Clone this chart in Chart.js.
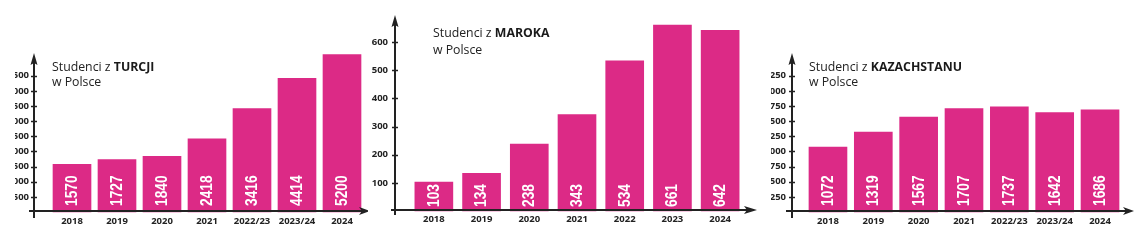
<!DOCTYPE html>
<html>
<head>
<meta charset="utf-8">
<script src="https://cdn.jsdelivr.net/npm/chart.js@4"></script>
<style>
  html, body { margin: 0; padding: 0; background: #fff; overflow: hidden; }
  body { width: 1148px; height: 240px; position: relative; }
  .wrap { position: absolute; top: 0; height: 240px; overflow: hidden; }
  .wrap canvas { position: absolute; top: 0; }
  .title {
    position: absolute; font-family: "Open Sans", sans-serif; font-size: 12.3px;
    font-weight: 500; color: #222; line-height: 15px; white-space: nowrap;
  }
  .title b { font-weight: 700; color: #1a1a1a; }
</style>
</head>
<body>

<div class="wrap" style="left:15px;width:353px"><canvas id="turcja" width="1148" height="240" style="left:-15px"></canvas></div>
<div class="wrap" style="left:368px;width:402px"><canvas id="maroko" width="1148" height="240" style="left:-368px"></canvas></div>
<div class="wrap" style="left:771px;width:377px"><canvas id="kazach" width="1148" height="240" style="left:-771px"></canvas></div>

<div class="title" style="left:52px;top:59px">Studenci z <b>TURCJI</b><br>w Polsce</div>
<div class="title" style="left:433px;top:24px;line-height:17px">Studenci z <b>MAROKA</b><br>w Polsce</div>
<div class="title" style="left:809px;top:59px">Studenci z <b>KAZACHSTANU</b><br>w Polsce</div>

<script>
// data
const turcjaLabels = ['2018', '2019', '2020', '2021', '2022/23', '2023/24', '2024'];
const turcjaValues = [1570, 1727, 1840, 2418, 3416, 4414, 5200];
const turcjaTicks = [500, 1000, 1500, 2000, 2500, 3000, 3500, 4000, 4500];

const marokoLabels = ['2018', '2019', '2020', '2021', '2022', '2023', '2024'];
const marokoValues = [103, 134, 238, 343, 534, 661, 642];
const marokoTicks = [100, 200, 300, 400, 500, 600];

const kazachLabels = ['2018', '2019', '2020', '2021', '2022/23', '2023/24', '2024'];
const kazachValues = [1072, 1319, 1567, 1707, 1737, 1642, 1686];
const kazachTicks = [250, 500, 750, 1000, 1250, 1500, 1750, 2000, 2250];

const PINK = '#dc2a86';
const INK = '#222';

// axis lines with arrows, tick marks, and rotated values inside the bars
const arrowAxes = {
  id: 'arrowAxes',
  afterDatasetsDraw(chart, args, o) {
    const ctx = chart.ctx;
    const y = chart.scales.y;
    ctx.save();
    ctx.strokeStyle = INK;
    ctx.fillStyle = INK;
    ctx.lineWidth = 2;

    // bar values, condensed along the reading direction
    const ds = chart.data.datasets[0];
    chart.getDatasetMeta(0).data.forEach((bar, i) => {
      ctx.save();
      ctx.translate(bar.x + 0.5, bar.base - o.textGap);
      ctx.rotate(-Math.PI / 2);
      ctx.scale(0.86, 1);
      ctx.font = 'bold 16px "Liberation Sans", Arial, sans-serif';
      ctx.fillStyle = '#fff';
      ctx.textAlign = 'left';
      ctx.textBaseline = 'middle';
      ctx.fillText(String(ds.data[i]), 0, 0);
      ctx.restore();
    });

    // y axis
    ctx.beginPath();
    ctx.moveTo(o.ax, o.yBottom);
    ctx.lineTo(o.ax, o.yTip + 8);
    ctx.stroke();
    ctx.beginPath();
    ctx.moveTo(o.ax, o.yTip);
    ctx.lineTo(o.ax - 3.5, o.yTip + 12);
    ctx.lineTo(o.ax, o.yTip + 10);
    ctx.lineTo(o.ax + 3.5, o.yTip + 12);
    ctx.closePath();
    ctx.fill();

    // x axis
    ctx.beginPath();
    ctx.moveTo(o.xStart, o.ay);
    ctx.lineTo(o.xTip - 8, o.ay);
    ctx.stroke();
    ctx.beginPath();
    ctx.moveTo(o.xTip, o.ay);
    ctx.lineTo(o.xTip - o.arrowLen, o.ay - 4);
    ctx.lineTo(o.xTip - o.arrowLen + 3, o.ay);
    ctx.lineTo(o.xTip - o.arrowLen, o.ay + 4);
    ctx.closePath();
    ctx.fill();

    // tick marks on y axis
    ctx.lineWidth = 1.5;
    ctx.beginPath();
    y.ticks.forEach(t => {
      const py = Math.round(y.getPixelForValue(t.value)) + 0.5;
      ctx.moveTo(o.ax - 3, py);
      ctx.lineTo(o.ax + 3, py);
    });
    ctx.stroke();
    ctx.restore();
  }
};

const tickFont = { family: '"Open Sans", sans-serif', size: 9.5, weight: 'bold' };

function makeChart(id, labels, values, ticks, s) {
  return new Chart(document.getElementById(id), {
    type: 'bar',
    data: {
      labels: labels,
      datasets: [{
        data: values,
        backgroundColor: PINK,
        borderWidth: 0,
        barThickness: 38,
        clip: false
      }]
    },
    options: {
      responsive: false,
      animation: false,
      devicePixelRatio: 1,
      layout: { padding: { left: s.left - 40, right: 1148 - s.right, top: 0, bottom: 0 } },
      plugins: {
        legend: { display: false },
        tooltip: { enabled: false },
        arrowAxes: s.axes
      },
      scales: {
        x: {
          grid: { display: false, drawTicks: false },
          border: { display: false },
          ticks: { color: '#222', font: tickFont, padding: s.xPad, maxRotation: 0, autoSkip: false },
          afterFit(scale) {
            scale.height = 240 - s.bottom;
            scale.paddingLeft = 0;
            scale.paddingRight = 0;
          }
        },
        y: {
          min: 0,
          max: s.max,
          grid: { display: false, drawTicks: false },
          border: { display: false },
          ticks: { color: '#222', font: tickFont, padding: s.left - s.labelRight },
          afterBuildTicks(scale) { scale.ticks = ticks.map(v => ({ value: v })); },
          afterFit(scale) {
            scale.width = 40;
            scale.paddingTop = 0;
            scale.paddingBottom = 0;
          }
        }
      }
    },
    plugins: [arrowAxes]
  });
}

makeChart('turcja', turcjaLabels, turcjaValues, turcjaTicks, {
  left: 49.5, right: 364.5, bottom: 212, max: 7000, xPad: 4, labelRight: 29,
  axes: { ax: 34, yTip: 53, yBottom: 218, ay: 211, xStart: 29, xTip: 370, arrowLen: 11, textGap: 6 }
});

makeChart('maroko', marokoLabels, marokoValues, marokoTicks, {
  left: 410, right: 744, bottom: 211, max: 750, xPad: 3, labelRight: 388,
  axes: { ax: 395, yTip: 15, yBottom: 215, ay: 210, xStart: 391, xTip: 757, arrowLen: 13, textGap: 4 }
});

makeChart('kazach', kazachLabels, kazachValues, kazachTicks, {
  left: 805.3, right: 1122.7, bottom: 212, max: 3500, xPad: 4, labelRight: 786,
  axes: { ax: 792, yTip: 53, yBottom: 218, ay: 211, xStart: 786, xTip: 1134, arrowLen: 11, textGap: 6 }
});
</script>
</body>
</html>
